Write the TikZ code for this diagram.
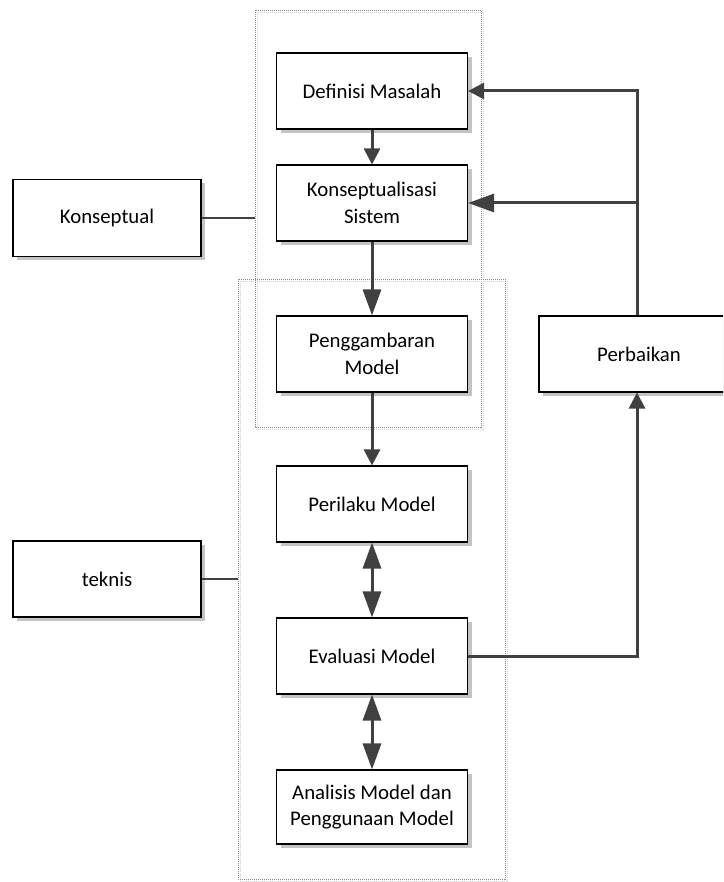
\documentclass[tikz,border=0pt]{standalone}
\usepackage{fontspec}
\setmainfont{Carlito}
\usetikzlibrary{arrows.meta,shadows}
\definecolor{linegray}{HTML}{404040}
\definecolor{shadowgray}{HTML}{C4C4C4}
\definecolor{dotgray}{HTML}{8A8A8A}
\definecolor{dotlight}{HTML}{D0D0D0}
\begin{document}
\begin{tikzpicture}[x=1pt,y=-1pt,
  stepbox/.style={draw=black, line width=1.1pt, fill=white,
    minimum width=191pt, minimum height=76pt, align=center, inner sep=0pt,
    font=\fontsize{20.8}{26.5}\selectfont,
    drop shadow={shadow xshift=4pt, shadow yshift=-4pt, fill=shadowgray, opacity=1}},
  flow/.style={draw=linegray, line width=3pt},
  smalltip/.style={-{Triangle[length=16pt,width=16pt]}},
  bigtip/.style={-{Triangle[length=26pt,width=18pt]}},
  bigboth/.style={{Triangle[length=26pt,width=18pt]}-{Triangle[length=26pt,width=18pt]}},
  groupline/.style={draw=dotgray, line width=0.8pt, dash pattern=on 1pt off 1pt},
  groupshade/.style={draw=dotlight, line width=0.8pt, dash pattern=on 1pt off 1pt}
]
\useasboundingbox (0,0) rectangle (723,882);
\clip (0,0) rectangle (723,882);

% dotted group frames
\draw[groupshade] (257,12) rectangle (483,429);
\draw[groupline] (255,10) rectangle (481,427);
\draw[groupshade] (240,281) rectangle (507,881);
\draw[groupline] (238,279) rectangle (505,879);

% process steps
\node[stepbox] (def)  at (372,91)  {Definisi Masalah};
\node[stepbox] (kons) at (372,203) {Konseptualisasi\\Sistem};
\node[stepbox] (gamb) at (372,354) {Penggambaran\\Model};
\node[stepbox] (peri) at (372,504) {Perilaku Model};
\node[stepbox] (eval) at (372,656) {Evaluasi Model};
\node[stepbox, minimum height=74pt] (anal) at (372,807) {Analisis Model dan\\Penggunaan Model};

% side labels
\node[stepbox, minimum width=188pt, minimum height=77pt] (konsep) at (107,218) {Konseptual};
\node[stepbox, minimum width=188pt] (tek) at (107,579) {teknis};
\node[stepbox, minimum width=200pt] (perb) at (639,354) {Perbaikan};

% attachment points
\coordinate (g1w) at (255,218);
\coordinate (g2w) at (238,579);
\coordinate (fbx) at (637,0);

% main flow
\draw[flow, smalltip] (def) -- (kons);
\draw[flow, bigtip] (kons) -- (gamb);
\draw[flow, smalltip] (gamb) -- (peri);
\draw[flow, bigboth] (peri) -- (eval);
\draw[flow, bigboth] (eval) -- (anal);

% feedback loop
\draw[flow, smalltip] (eval.east) -| (perb.south -| fbx);
\draw[flow, smalltip] (perb.north -| fbx) |- (def.east);
\draw[flow, bigtip] (fbx |- kons.east) -- (kons.east);

% group links
\draw[flow, line width=2.6pt] (konsep.east) -- (g1w);
\draw[flow, line width=2.6pt] (tek.east) -- (g2w);
\end{tikzpicture}
\end{document}
